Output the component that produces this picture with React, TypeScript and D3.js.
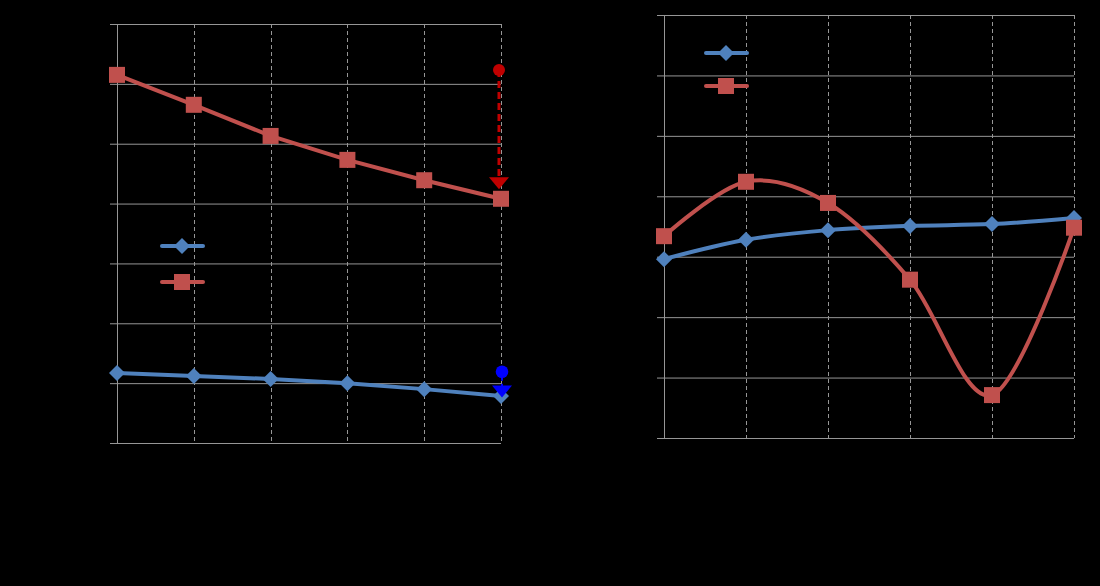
import React from "react";
import * as d3 from "d3";

const W = 1100;
const H = 586;

// categories (shared x positions, 6 points per chart)
const categories = ["1", "2", "3", "4", "5", "6"];

// Left chart series
const leftRed = [61.5, 56.5, 51.3, 47.3, 43.9, 40.8];
const leftBlue = [11.7, 11.2, 10.7, 10.0, 9.0, 7.85];
// Left chart extra markers at last category
const leftRedCircle = 62.3;
const leftRedTriangle = 43.4;
const leftBlueCircle = 11.9;
const leftBlueTriangle = 8.6;
const leftTicks = [0, 10, 20, 30, 40, 50, 60, 70];

// Right chart series
const rightBlue = [29.6, 32.8, 34.4, 35.1, 35.4, 36.4];
const rightRed = [33.4, 42.4, 38.9, 26.2, 7.1, 34.8];
const rightTicks = [0, 10, 20, 30, 40, 50, 60, 70];

const BLUE = "#4f81bd";
const RED = "#c0504d";
const GRID = "#969696";

type PanelProps = {
  x0: number;
  x1: number;
  y0: number;
  y1: number;
  ticks: number[];
  series: { values: number[]; color: string; marker: "diamond" | "square" }[];
  smooth: boolean;
  legendX: number;
  legendY: number[];
  extras?: (x: d3.ScalePoint<string>, y: d3.ScaleLinear<number, number>) => React.ReactNode;
};

function Marker({ kind, cx, cy, color }: { kind: "diamond" | "square"; cx: number; cy: number; color: string }) {
  if (kind === "diamond") {
    const r = 8;
    return <path d={`M${cx},${cy - r}L${cx + r},${cy}L${cx},${cy + r}L${cx - r},${cy}Z`} fill={color} />;
  }
  const s = 16;
  return <rect x={cx - s / 2} y={cy - s / 2} width={s} height={s} fill={color} />;
}

function Panel(p: PanelProps) {
  const x = d3.scalePoint<string>().domain(categories).range([p.x0, p.x1]);
  const y = d3.scaleLinear().domain([p.ticks[0], p.ticks[p.ticks.length - 1]]).range([p.y1, p.y0]);
  const line = d3
    .line<number>()
    .x((_, i) => x(categories[i]) as number)
    .y((d) => y(d))
    .curve(p.smooth ? d3.curveCardinal.tension(0) : d3.curveLinear);
  return (
    <g>
      {p.ticks.map((t) => (
        <g key={"h" + t}>
          <line x1={p.x0 - 7} x2={p.x1} y1={y(t) + 0.5} y2={y(t) + 0.5} stroke={GRID} strokeWidth={1} />
          <text x={p.x0 - 12} y={y(t)} dy="0.35em" textAnchor="end" fontSize={14} fill="#000" fontFamily="Liberation Sans">
            {t}
          </text>
        </g>
      ))}
      {categories.map((c, i) => {
        const xv = Math.round(x(c) as number) + 0.5;
        return i === 0 ? (
          <line key={"v" + c} x1={xv} x2={xv} y1={p.y0} y2={p.y1} stroke={GRID} strokeWidth={1} />
        ) : (
          <line key={"v" + c} x1={xv} x2={xv} y1={p.y0} y2={p.y1} stroke={GRID} strokeWidth={1} strokeDasharray="4,3" />
        );
      })}
      {categories.map((c) => (
        <text key={"xl" + c} x={x(c)} y={p.y1 + 20} textAnchor="middle" fontSize={14} fill="#000" fontFamily="Liberation Sans">
          {c}
        </text>
      ))}
      {p.series.map((s, si) => (
        <g key={"s" + si}>
          <path d={line(s.values) || ""} fill="none" stroke={s.color} strokeWidth={4} strokeLinejoin="round" />
          {s.values.map((v, i) => (
            <Marker key={i} kind={s.marker} cx={x(categories[i]) as number} cy={y(v)} color={s.color} />
          ))}
        </g>
      ))}
      {p.extras ? p.extras(x, y) : null}
      {p.series.map((s, si) => (
        <g key={"lg" + si}>
          <line x1={p.legendX} x2={p.legendX + 41} y1={p.legendY[si]} y2={p.legendY[si]} stroke={s.color} strokeWidth={4} strokeLinecap="round" />
          <Marker kind={s.marker} cx={p.legendX + 20} cy={p.legendY[si]} color={s.color} />
        </g>
      ))}
    </g>
  );
}

export default function App() {
  return (
    <div style={{ position: "fixed", left: 0, top: 0 }}>
      <svg width={W} height={H} style={{ display: "block" }}>
        <rect x={0} y={0} width={W} height={H} fill="#000" />
        <Panel
          x0={117}
          x1={501}
          y0={24}
          y1={443}
          ticks={leftTicks}
          smooth={false}
          series={[
            { values: leftBlue, color: BLUE, marker: "diamond" },
            { values: leftRed, color: RED, marker: "square" },
          ]}
          legendX={162}
          legendY={[246, 282]}
          extras={(x, y) => {
            const cx = (x(categories[5]) as number) - 2;
            const bx = (x(categories[5]) as number) + 1;
            return (
              <g>
                <line x1={cx} x2={cx} y1={y(leftRedCircle)} y2={y(leftRedTriangle)} stroke="#c00000" strokeWidth={3} strokeDasharray="7,4" />
                <circle cx={cx} cy={y(leftRedCircle)} r={6} fill="#c00000" />
                <path d={`M${cx - 10},${y(leftRedTriangle) - 6}L${cx + 10},${y(leftRedTriangle) - 6}L${cx},${y(leftRedTriangle) + 6}Z`} fill="#c00000" />
                <line x1={bx} x2={bx} y1={y(leftBlueCircle)} y2={y(leftBlueTriangle)} stroke="#0000ff" strokeWidth={2} strokeDasharray="3,3" />
                <circle cx={bx} cy={y(leftBlueCircle)} r={6.3} fill="#0000ff" />
                <path d={`M${bx - 10},${y(leftBlueTriangle) - 6}L${bx + 10},${y(leftBlueTriangle) - 6}L${bx},${y(leftBlueTriangle) + 6}Z`} fill="#0000ff" />
              </g>
            );
          }}
        />
        <Panel
          x0={664}
          x1={1074}
          y0={15}
          y1={438}
          ticks={rightTicks}
          smooth={true}
          series={[
            { values: rightBlue, color: BLUE, marker: "diamond" },
            { values: rightRed, color: RED, marker: "square" },
          ]}
          legendX={706}
          legendY={[53, 86]}
        />
      </svg>
    </div>
  );
}
